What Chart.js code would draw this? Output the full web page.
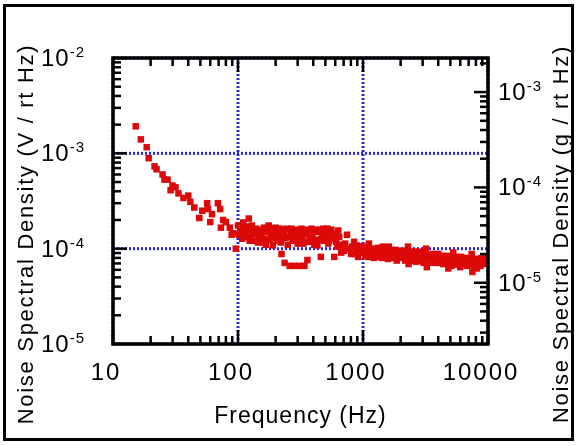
<!DOCTYPE html>
<html>
<head>
<meta charset="utf-8">
<script src="https://cdn.jsdelivr.net/npm/chart.js@4"></script>
<style>
  body { margin: 0; background: #fff; }
  canvas { display: block; }
</style>
</head>
<body>
<canvas id="psd" width="577" height="446"></canvas>
<script>
const freqHz = [
  15.2, 16.7, 18.6, 19.3, 21.5, 22.3, 24.9, 25.8, 27.3, 28.9,
  29.9, 31.6, 33.4, 36.6, 40, 41.6, 44.7, 49, 51.8, 56.6,
  57.5, 60, 62, 69, 72, 73, 76, 80, 86, 89,
  91, 96, 100, 102, 106, 110, 114, 118, 122, 127,
  131, 136, 141, 146, 152, 158, 164, 170, 176, 183,
  190, 197, 204, 212, 220, 223, 227, 236, 240, 250,
  259, 263, 273, 283, 289, 300, 310, 316, 328, 340,
  346, 359, 366, 380, 394, 408, 424, 440, 460, 474,
  490, 510, 528, 548, 569, 589, 600, 622, 645, 670,
  707, 745, 775, 804, 849, 880, 913, 947, 983, 1019,
  1045, 1098, 1116, 1145, 1200, 1223, 1255, 1315, 1340, 1400,
  1440, 1500, 1560, 1608, 1680, 1750, 1820, 1860, 1950, 2020,
  2100, 2115, 2220, 2290, 2318, 2420, 2500, 2600, 2720, 2782,
  2900, 3000, 3130, 3190, 3240, 3340, 3500, 3600, 3740, 3880,
  4010, 4190, 4350, 4500, 4700, 4814, 5000, 5200, 5274, 5500,
  5700, 5900, 6100, 6331, 6600, 6800, 7100, 7400, 7500, 7750,
  8000, 8327, 8700, 9000, 9300, 9500, 9820
];
const noiseV = [
  1.92e-3, 1.40e-3, 1.16e-3, 8.9e-4, 7.3e-4, 6.8e-4, 6.0e-4, 5.3e-4, 5.3e-4, 4.1e-4,
  4.6e-4, 4.4e-4, 3.8e-4, 3.4e-4, 3.6e-4, 3.1e-4, 2.7e-4, 2.1e-4, 2.5e-4, 3.0e-4,
  2.6e-4, 1.9e-4, 2.3e-4, 3.0e-4, 2.6e-4, 1.66e-4, 2.0e-4, 1.9e-4, 1.66e-4, 1.4e-4,
  1.45e-4, 1.0e-4, 1.75e-4, 1.4e-4, 1.6e-4, 1.88e-4, 1.47e-4, 1.7e-4, 2.07e-4, 1.33e-4,
  1.58e-4, 1.21e-4, 1.5e-4, 1.33e-4, 1.43e-4, 1.16e-4, 1.55e-4, 1.27e-4, 1.75e-4, 1.4e-4,
  1.08e-4, 1.5e-4, 1.21e-4, 1.37e-4, 1.16e-4, 8.8e-5, 1.58e-4, 7.1e-5, 1.3e-4, 1.1e-4,
  6.6e-5, 1.47e-4, 1.21e-4, 6.6e-5, 1.4e-4, 1.13e-4, 6.6e-5, 1.5e-4, 1.27e-4, 6.6e-5,
  1.43e-4, 7.6e-5, 1.18e-4, 1.55e-4, 1.33e-4, 1.1e-4, 1.5e-4, 1.24e-4, 8.2e-5, 1.47e-4,
  1.21e-4, 1.4e-4, 1.13e-4, 1.5e-4, 1.27e-4, 8.2e-5, 1.43e-4, 1.05e-4, 1.33e-4, 9.1e-5,
  9.5e-5, 1.4e-4, 1.0e-4, 8.8e-5, 1.18e-4, 9.5e-5, 8.2e-5, 1.02e-4, 9.3e-5, 1.05e-4,
  8.4e-5, 9.5e-5, 1.13e-4, 8.8e-5, 1.0e-4, 8.0e-5, 9.3e-5, 1.02e-4, 8.6e-5, 9.7e-5,
  1.05e-4, 8.4e-5, 9.5e-5, 1.05e-4, 8.0e-5, 9.1e-5, 9.7e-5, 7.5e-5, 8.6e-5, 9.5e-5,
  8.2e-5, 9.1e-5, 7.8e-5, 1.05e-4, 6.9e-5, 8.8e-5, 8.0e-5, 9.3e-5, 7.6e-5, 8.6e-5,
  7.5e-5, 9.1e-5, 8.2e-5, 1.0e-4, 6.4e-5, 7.8e-5, 8.6e-5, 7.3e-5, 8.2e-5, 7.6e-5,
  8.8e-5, 7.1e-5, 8.0e-5, 7.5e-5, 8.4e-5, 6.2e-5, 7.6e-5, 7.1e-5, 9.1e-5, 7.8e-5,
  6.8e-5, 7.5e-5, 8.2e-5, 6.9e-5, 7.6e-5, 6.6e-5, 7.3e-5, 8.8e-5, 5.7e-5, 6.4e-5,
  7.1e-5, 7.8e-5, 6.6e-5, 7.5e-5, 8.2e-5, 6.9e-5, 7.6e-5
];
// denser part of the band above 100 Hz
const bandFreqHz = [
  104, 108, 112, 116, 120, 124, 129, 133, 139, 144,
  150, 155, 161, 167, 173, 179, 186, 193, 200, 208,
  215, 223, 232, 245, 254, 268, 278, 294, 305, 322,
  334, 352, 373, 387, 401, 416, 432, 448, 465, 482,
  500, 519, 537, 558, 579, 611, 634, 657, 695, 720,
  820, 865, 895, 930, 965, 1000, 1070, 1105, 1170, 1210,
  1285, 1330, 1370, 1420, 1468, 1530, 1585, 1640, 1715, 1790,
  1900, 1931, 2060, 2140, 2180, 2250, 2370, 2460, 2540, 2660,
  2750, 2840, 2950, 3048, 3290, 3420, 3550, 3660, 3810, 3950,
  4100, 4270, 4393, 4600, 4750, 4900, 5100, 5380, 5600, 5778,
  6000, 6200, 6450, 6700, 6937, 7250, 7600, 7900, 8150, 8500,
  8850, 9124, 9650
];
const bandNoiseV = [
  1.55e-4, 1.27e-4, 1.7e-4, 1.33e-4, 1.55e-4, 1.21e-4, 1.75e-4, 1.43e-4, 1.62e-4, 1.16e-4,
  1.58e-4, 1.33e-4, 1.66e-4, 1.1e-4, 1.5e-4, 1.24e-4, 1.62e-4, 1.3e-4, 1.66e-4, 1.43e-4,
  1.62e-4, 1.27e-4, 1.47e-4, 1.62e-4, 1.33e-4, 1.62e-4, 1.33e-4, 1.58e-4, 1.3e-4, 1.62e-4,
  1.13e-4, 1.58e-4, 1.33e-4, 1.62e-4, 1.21e-4, 1.58e-4, 1.08e-4, 1.58e-4, 1.27e-4, 1.62e-4,
  1.33e-4, 1.62e-4, 1.21e-4, 1.58e-4, 1.33e-4, 1.18e-4, 1.55e-4, 1.1e-4, 1.02e-4, 1.13e-4,
  1.05e-4, 8.8e-5, 1.08e-4, 9.1e-5, 1.05e-4, 9.1e-5, 1.0e-4, 8.2e-5, 9.3e-5, 8.6e-5,
  9.7e-5, 8.2e-5, 9.3e-5, 8.0e-5, 9.5e-5, 8.8e-5, 7.8e-5, 9.1e-5, 9.7e-5, 8.2e-5,
  9.3e-5, 8.0e-5, 8.8e-5, 9.5e-5, 7.5e-5, 8.4e-5, 9.3e-5, 7.5e-5, 8.4e-5, 7.3e-5,
  8.2e-5, 9.3e-5, 8.0e-5, 7.1e-5, 8.6e-5, 7.1e-5, 8.0e-5, 8.8e-5, 7.1e-5, 8.2e-5,
  7.5e-5, 8.4e-5, 6.9e-5, 7.8e-5, 7.1e-5, 8.2e-5, 6.6e-5, 7.5e-5, 8.2e-5, 7.1e-5,
  6.4e-5, 7.8e-5, 7.3e-5, 8.0e-5, 6.9e-5, 7.8e-5, 6.8e-5, 7.6e-5, 6.2e-5, 7.3e-5,
  8.0e-5, 7.1e-5, 7.8e-5
];

const xTicks = [10, 100, 1000, 10000];
const yTickExp = [-5, -4, -3, -2];   // left axis, V / rt Hz
const y2TickExp = [-5, -4, -3];      // right axis, g / rt Hz
const xTitle = 'Frequency (Hz)';
const yTitle = 'Noise Spectral Density (V / rt Hz)';
const y2Title = 'Noise Spectral Density (g / rt Hz)';
const voltsPerG = 4.39;

const FONT = '"Liberation Sans", Arial, sans-serif';

function decadeTicks(lo, hi) {
  const out = [];
  for (let e = Math.floor(Math.log10(lo)); e <= Math.ceil(Math.log10(hi)); e++) {
    for (let m = 1; m <= 9; m++) {
      const v = m * Math.pow(10, e);
      if (v >= lo * 0.999 && v <= hi * 1.001) out.push({ v, major: m === 1 });
    }
  }
  return out;
}

function drawPow(ctx, exp, x, y, alignRight) {
  ctx.letterSpacing = '1px';
  ctx.font = '24px ' + FONT;
  const w1 = ctx.measureText('10').width;
  ctx.font = '15px ' + FONT;
  const sup = String(exp);
  const w2 = ctx.measureText(sup).width;
  const x0 = alignRight ? x - w1 - w2 : x;
  ctx.textAlign = 'left';
  ctx.font = '24px ' + FONT;
  ctx.fillText('10', x0, y + 8);
  ctx.font = '15px ' + FONT;
  ctx.fillText(sup, x0 + w1, y - 1);
}

const axesPlugin = {
  id: 'axesPlugin',
  beforeDatasetsDraw(chart) {
    const { ctx, chartArea: a, scales: { x, y } } = chart;
    ctx.save();
    ctx.strokeStyle = '#2727dc';
    ctx.lineWidth = 3;
    ctx.setLineDash([2, 2]);
    xTicks.forEach(v => {
      const px = x.getPixelForValue(v);
      ctx.beginPath(); ctx.moveTo(px, a.top); ctx.lineTo(px, a.bottom); ctx.stroke();
    });
    yTickExp.forEach(e => {
      const py = y.getPixelForValue(Math.pow(10, e));
      ctx.beginPath(); ctx.moveTo(a.left, py); ctx.lineTo(a.right, py); ctx.stroke();
    });
    ctx.restore();
  },
  afterDatasetsDraw(chart) {
    const { ctx, chartArea: a, scales: { x, y, y2 } } = chart;
    ctx.save();
    ctx.strokeStyle = '#000';
    ctx.fillStyle = '#000';

    // ticks, pointing inward
    ctx.lineWidth = 2.5;
    const major = 14, minor = 8;
    decadeTicks(x.min, x.max).forEach(t => {
      const px = x.getPixelForValue(t.v), len = t.major ? major : minor;
      ctx.beginPath();
      ctx.moveTo(px, a.bottom); ctx.lineTo(px, a.bottom - len);
      ctx.moveTo(px, a.top); ctx.lineTo(px, a.top + len);
      ctx.stroke();
    });
    decadeTicks(y.min, y.max).forEach(t => {
      const py = y.getPixelForValue(t.v), len = t.major ? major : minor;
      ctx.beginPath(); ctx.moveTo(a.left, py); ctx.lineTo(a.left + len, py); ctx.stroke();
    });
    decadeTicks(y2.min, y2.max).forEach(t => {
      const py = y2.getPixelForValue(t.v), len = t.major ? major : minor;
      ctx.beginPath(); ctx.moveTo(a.right, py); ctx.lineTo(a.right - len, py); ctx.stroke();
    });

    // plot frame
    ctx.lineWidth = 3.5;
    ctx.strokeRect(a.left, a.top, a.right - a.left, a.bottom - a.top);

    // tick labels
    ctx.font = '24px ' + FONT;
    ctx.letterSpacing = '2px';
    ctx.textAlign = 'center';
    ctx.textBaseline = 'alphabetic';
    xTicks.forEach(v => {
      ctx.fillText(String(v), x.getPixelForValue(v) - 7, 380);
    });
    yTickExp.forEach(e => drawPow(ctx, e, 85, y.getPixelForValue(Math.pow(10, e)), true));
    y2TickExp.forEach(e => drawPow(ctx, e, 498, y2.getPixelForValue(Math.pow(10, e)), false));

    // axis titles
    ctx.font = '23px ' + FONT;
    ctx.letterSpacing = '1px';
    ctx.textAlign = 'center';
    ctx.fillText(xTitle, (a.left + a.right) / 2, 423);
    ctx.font = '22px ' + FONT;
    ctx.letterSpacing = '1.7px';
    [[33, yTitle], [568, y2Title]].forEach(([tx, txt]) => {
      ctx.save();
      ctx.translate(tx, 234);
      ctx.rotate(-Math.PI / 2);
      ctx.fillText(txt, 0, 0);
      ctx.restore();
    });

    // outer border
    ctx.lineWidth = 3;
    ctx.strokeRect(4.5, 5.5, 568, 434);
    ctx.restore();
  }
};

const points = freqHz.map((f, i) => ({ x: f, y: noiseV[i] }))
  .concat(bandFreqHz.map((f, i) => ({ x: f, y: bandNoiseV[i] })));

new Chart(document.getElementById('psd'), {
  type: 'scatter',
  data: {
    datasets: [{
      data: points,
      pointStyle: 'rect',
      pointRadius: 4.6,
      pointBorderWidth: 0,
      backgroundColor: '#dd0808'
    }]
  },
  options: {
    responsive: false,
    animation: false,
    events: [],
    layout: { padding: { left: 113, right: 89, top: 58, bottom: 102 } },
    plugins: { legend: { display: false }, tooltip: { enabled: false } },
    scales: {
      x: { type: 'logarithmic', min: 10, max: 10000, display: false },
      y: { type: 'logarithmic', min: 1e-5, max: 1e-2, display: false },
      y2: { type: 'logarithmic', position: 'right', min: 1e-5 / voltsPerG, max: 1e-2 / voltsPerG, display: false }
    }
  },
  plugins: [axesPlugin]
});
</script>
</body>
</html>
